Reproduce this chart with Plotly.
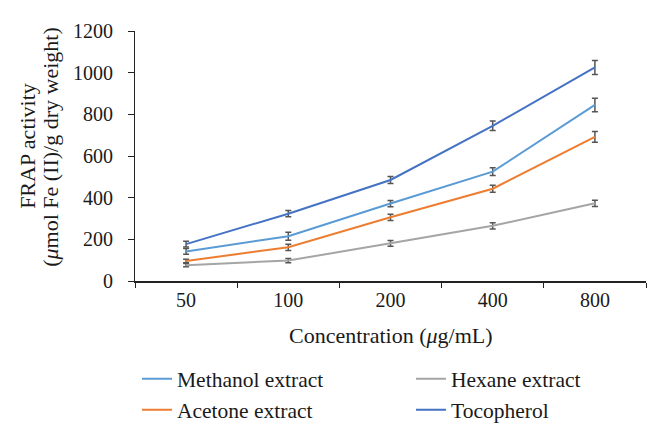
import plotly.graph_objects as go

concentrations = ["50", "100", "200", "400", "800"]
methanol = [142, 215, 372, 525, 845]
methanol_err = [14, 19, 15, 19, 32]
acetone = [96, 162, 306, 443, 692]
acetone_err = [8, 15, 15, 17, 26]
hexane = [76, 98, 181, 265, 373]
hexane_err = [8, 10, 14, 15, 15]
tocopherol = [177, 323, 485, 745, 1025]
tocopherol_err = [14, 15, 17, 23, 34]

y_ticks = [0, 200, 400, 600, 800, 1000, 1200]

FONT = "Liberation Serif"
TXT = "#1a1a1a"
ERR_COLOR = "#555555"

series = [
    ("Methanol extract", methanol, methanol_err, "#5B9BD5", "legend"),
    ("Acetone extract", acetone, acetone_err, "#ED7D31", "legend"),
    ("Hexane extract", hexane, hexane_err, "#A5A5A5", "legend2"),
    ("Tocopherol", tocopherol, tocopherol_err, "#4472C4", "legend2"),
]

fig = go.Figure()
for name, vals, errs, color, leg in series:
    fig.add_trace(go.Scatter(
        x=concentrations, y=vals, name=name, mode="lines",
        line=dict(color=color, width=2),
        error_y=dict(type="data", array=errs, visible=True,
                     color=ERR_COLOR, thickness=1.5, width=3),
        legend=leg,
    ))

legend_common = dict(
    orientation="v", xanchor="left", yanchor="top",
    font=dict(family=FONT, size=21.5, color=TXT),
    bgcolor="rgba(0,0,0,0)", itemwidth=30, tracegroupgap=0,
)

PW = 666 - 127 - 28
PH = 434 - 21 - 154

def px_x(px):
    return (px - 127) / PW

def px_y(py):
    return (280 - py) / PH

fig.update_layout(
    width=666, height=434,
    margin=dict(l=127, r=28, t=21, b=154),
    paper_bgcolor="white", plot_bgcolor="white",
    font=dict(family=FONT, size=20, color=TXT),
    legend=dict(x=px_x(129), y=px_y(360), **legend_common),
    legend2=dict(x=px_x(403), y=px_y(360), **legend_common),
    xaxis=dict(
        type="category", range=[-0.5, 4.5],
        showline=True, linecolor="#222", linewidth=1.5,
        ticks="outside", tickson="boundaries", ticklen=5, tickcolor="#222",
        tickfont=dict(family=FONT, size=20, color=TXT),
        showgrid=False, zeroline=False,
    ),
    yaxis=dict(
        range=[0, 1200], tickvals=y_ticks,
        showline=True, linecolor="#222", linewidth=1.2,
        ticks="outside", ticklen=6, tickcolor="#222",
        tickfont=dict(family=FONT, size=20, color=TXT),
        ticklabelstandoff=11,
        showgrid=False, zeroline=False,
    ),
    annotations=[
        dict(text="FRAP activity",
             xref="paper", yref="paper", x=px_x(20), y=px_y(140),
             xanchor="center", yanchor="middle", textangle=-90,
             showarrow=False, font=dict(family=FONT, size=22, color=TXT)),
        dict(text="(<i>μ</i>mol Fe (II)/g dry weight)",
             xref="paper", yref="paper", x=px_x(43), y=px_y(141),
             xanchor="center", yanchor="middle", textangle=-90,
             showarrow=False, font=dict(family=FONT, size=22, color=TXT)),
        dict(text="Concentration (<i>μ</i>g/mL)",
             xref="paper", yref="paper", x=px_x(383), y=px_y(336),
             xanchor="center", yanchor="middle",
             showarrow=False, font=dict(family=FONT, size=22, color=TXT)),
    ],
)

fig.write_html("out.html")
